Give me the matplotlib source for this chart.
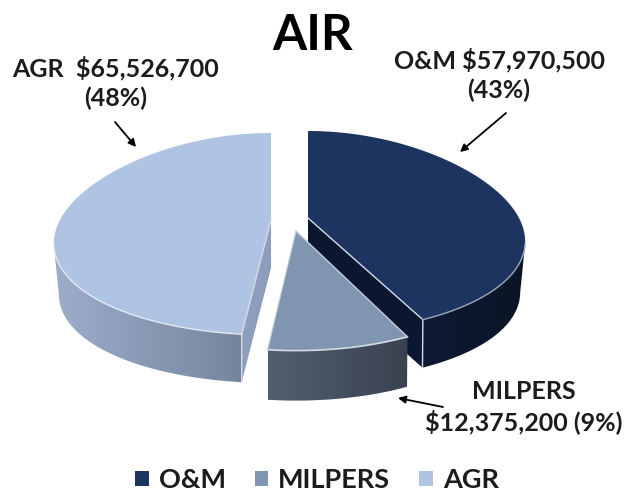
import numpy as np
import matplotlib
matplotlib.use("Agg")
import matplotlib.pyplot as plt
from matplotlib.colors import LinearSegmentedColormap
from matplotlib.patches import Patch, Polygon

plt.rcParams["font.family"] = ["Lato", "DejaVu Sans"]

# budget by category, clockwise from 12 o'clock
names = ["O&M", "MILPERS", "AGR"]
amounts = [57970500, 12375200, 65526700]
top_colors = ["#1d3461", "#8096b0", "#afc3e2"]
wall_colors = [("#0d1a33", "#0b1426"), ("#515f72", "#3a424f"), ("#9dadca", "#74869f")]
side_colors = ["#0b1730", None, "#8d9dbd"]
labels = ["O&M $57,970,500\n(43%)", "MILPERS\n$12,375,200 (9%)", "AGR  $65,526,700\n(48%)"]

# exploded centers of the wedges and small per wedge corrections, in pixels
centers = [(308, 218), (296, 231), (271, 220)]
scale_x = [1, 0.97, 1]
scale_y = [1, 1.04, 1]
depths = [48, 50, 48]


def project(theta, i):
    # tilted disc with a bit of perspective, nearer edge is bigger
    cx, cy = centers[i]
    s = -np.sin(theta)
    x = cx + scale_x[i] * 211 * np.cos(theta) * (1 + 0.25 * s)
    y = cy + scale_y[i] * (101 * s + 14 * s ** 2)
    return np.column_stack([x, y])


def project_bottom(theta, i):
    # lower rim, slightly narrower at the sides
    pts = project(theta, i)
    s = -np.sin(theta)
    pts[:, 0] = centers[i][0] + (pts[:, 0] - centers[i][0]) * (1 - 0.03 * (1 - s))
    pts[:, 1] += depths[i]
    return pts


def gradient_fill(ax, pts, c0, c1, z):
    poly = Polygon(pts, closed=True, fc="none", ec="none", zorder=z)
    ax.add_patch(poly)
    cmap = LinearSegmentedColormap.from_list("wall", [c0, c1])
    x0, x1 = pts[:, 0].min(), pts[:, 0].max()
    y0, y1 = pts[:, 1].min(), pts[:, 1].max()
    im = ax.imshow(np.linspace(0, 1, 256)[None, :], cmap=cmap, aspect="auto",
                   extent=(x0, x1, y1, y0), zorder=z)
    im.set_clip_path(poly)


fig = plt.figure(figsize=(6.32, 4.95), dpi=100)
ax = fig.add_axes([0, 0, 1, 1])
ax.axis("off")

shares = np.array(amounts) / sum(amounts)
edges = np.pi / 2 - 2 * np.pi * np.concatenate([[0], np.cumsum(shares)])
# angle of the cut face that can be seen, for O&M and AGR
face_angle = [edges[1], None, edges[2]]

for i in range(3):
    base = 2 + i * 3
    t = np.linspace(edges[i], edges[i + 1], 300)
    arc = project(t, i)
    apex = np.array([centers[i]])
    down = np.array([0, depths[i]])

    # outer wall, only the part facing the viewer
    t_w = t[-np.sin(t) > 0.25]
    wall = np.vstack([project(t_w, i), project_bottom(t_w, i)[::-1]])
    gradient_fill(ax, wall, wall_colors[i][0], wall_colors[i][1], base)

    # cut face of the wedge
    if side_colors[i] is not None:
        end = project(np.array([face_angle[i]]), i)[0]
        low = project_bottom(np.array([face_angle[i]]), i)[0]
        face = np.vstack([apex, [end], [low], apex + down])
        ax.add_patch(Polygon(face, closed=True, fc=side_colors[i], ec="none", zorder=base + 1))
        ax.plot([apex[0, 0], end[0], low[0]], [apex[0, 1], end[1], low[1]],
                color="#d3dae8", lw=1, zorder=base + 2.5)

    ax.add_patch(Polygon(np.vstack([apex, arc]), closed=True, fc=top_colors[i], ec="none", zorder=base + 2))

# light bevel on the near edges
t = np.linspace(edges[1], -0.253, 100)
ax.plot(*project(t, 0).T, color="#9aa6bd", lw=1, zorder=4.6)
t = np.linspace(edges[1], edges[2], 60)
p = project(t, 1)
ax.plot(p[:, 0], p[:, 1], color="#d5dbe4", lw=1.2, zorder=7.6)
ax.plot([centers[1][0], p[0, 0]], [centers[1][1], p[0, 1]], color="#c3cedb", lw=1, zorder=7.6)
ax.plot([centers[1][0], p[-1, 0]], [centers[1][1], p[-1, 1]], color="#c3cedb", lw=0.8, zorder=7.6)
t = np.linspace(edges[2], -2.888, 80)
ax.plot(*project(t, 2).T, color="#e2e9f4", lw=1, zorder=10.6)

ax.set_xlim(0, 632)
ax.set_ylim(495, 0)

text_kw = dict(ha="center", va="center", fontweight="bold", color="#1c1c1c", fontsize=18, linespacing=1.3)
ax.text(313, 35, "AIR", ha="center", va="center", fontweight="bold", color="black", fontsize=35.5)
ax.text(499, 75, labels[0], **text_kw)
ax.text(524, 407, labels[1], **text_kw)
ax.text(116, 83, labels[2], **text_kw)

arrow = dict(arrowstyle="-|>", color="black", lw=1.3, mutation_scale=11, shrinkA=0, shrinkB=0)
ax.annotate("", xy=(460, 152), xytext=(506, 113), arrowprops=arrow, zorder=20)
ax.annotate("", xy=(136, 147), xytext=(115, 122), arrowprops=arrow, zorder=20)
ax.annotate("", xy=(398, 398), xytext=(443, 407), arrowprops=arrow, zorder=20)

handles = [Patch(fc=c, ec="none") for c in top_colors]
ax.legend(handles, names, ncol=3, loc="center", bbox_to_anchor=(317 / 632, 1 - 480 / 495),
          frameon=False, prop=dict(weight="bold", size=19.5), labelcolor="#1c1c1c",
          handlelength=0.5, handleheight=0.5, handletextpad=0.37, columnspacing=1.07)

plt.savefig("out.png", dpi=100)
